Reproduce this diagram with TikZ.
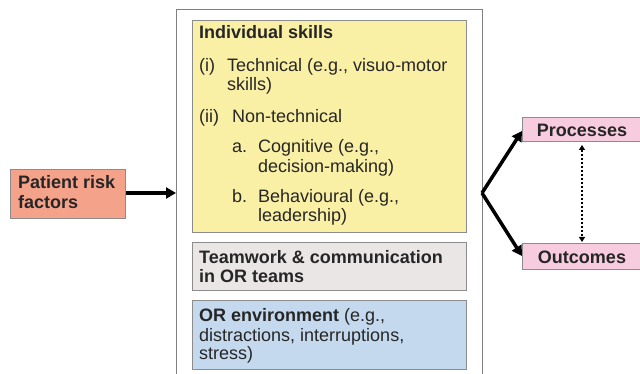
\documentclass[tikz,border=0pt]{standalone}
\usepackage{fontspec}
\setmainfont{Liberation Sans}
\usetikzlibrary{arrows.meta}
\begin{document}
\begin{tikzpicture}[x=1pt,y=-1pt,
  box/.style={draw=black!45,line width=1.2pt,inner sep=0pt,anchor=north west},
  txt/.style={anchor=base west,inner sep=0pt,font=\fontsize{18}{22}\selectfont,text=black!85},
  btxt/.style={txt,font=\fontsize{18}{22}\selectfont\bfseries},
  bigarrow/.style={line width=3.5pt,-{Triangle[length=10pt,width=11pt]}},
  dotarrow/.style={line width=2pt,dotted,{Triangle[length=5pt,width=6pt]}-{Triangle[length=5pt,width=6pt]}}]
\useasboundingbox (0,0) rectangle (640,374);
\fill[white] (0,0) rectangle (640,374);
% outer frame
\node[draw=black!50,line width=1.2pt,inner sep=0pt,anchor=north west,minimum width=306pt,minimum height=380pt] (outer) at (176,9) {};
% inner boxes
\node[box,fill={rgb,255:red,250;green,240;blue,165},minimum width=274pt,minimum height=212pt] (indiv) at (192,20) {};
\node[box,fill={rgb,255:red,234;green,230;blue,230},minimum width=274pt,minimum height=48pt] (team) at (192,242) {};
\node[box,fill={rgb,255:red,197;green,217;blue,238},minimum width=274pt,minimum height=69pt] (env) at (192,300) {};
\node[box,fill={rgb,255:red,245;green,162;blue,138},minimum width=115pt,minimum height=49pt] (patient) at (10,169) {};
\node[box,fill={rgb,255:red,247;green,204;blue,222},minimum width=130pt,minimum height=24pt] (proc) at (522,117) {};
\node[box,fill={rgb,255:red,247;green,204;blue,222},minimum width=130pt,minimum height=26pt] (outc) at (522,243) {};
% texts
\node[btxt] (t1) at (199,39) {Individual skills};
\node[txt] (t2a) at (199,72) {(i)};
\node[txt] (t2) at (227,72) {Technical (e.g., visuo-motor};
\node[txt] (t3) at (227,91) {skills)};
\node[txt] (t4a) at (199,123) {(ii)};
\node[txt] (t4) at (232,123) {Non-technical};
\node[txt] (t5a) at (232,153) {a.};
\node[txt] (t5) at (258,153) {Cognitive (e.g.,};
\node[txt] (t6) at (258,173) {decision-making)};
\node[txt] (t7a) at (232,203) {b.};
\node[txt] (t7) at (258,203) {Behavioural (e.g.,};
\node[txt] (t8) at (258,222) {leadership)};
\node[btxt] (u1) at (199,263) {Teamwork \& communication};
\node[btxt] (u2) at (199,282) {in OR teams};
\node[txt] (v1) at (199,321) {\textbf{OR environment} (e.g.,};
\node[txt] (v2) at (199,341) {distractions, interruptions,};
\node[txt] (v3) at (199,359) {stress)};
\node[btxt] (p1) at (18,189) {Patient risk};
\node[btxt] (p2) at (18,209) {factors};
\node[btxt,anchor=base] (q1) at (582,137) {Processes};
\node[btxt,anchor=base] (q2) at (582,263) {Outcomes};
% connectors
\coordinate (branch) at (482,193);
\draw[bigarrow] (patient.east |- 0,193) -- (outer.west |- 0,193);
\draw[bigarrow,line join=miter] (branch) -- (proc.west |- 0,131);
\draw[bigarrow] (branch) -- (outc.west |- 0,256);
\draw[dotarrow] (582,145) -- (582,242);
\end{tikzpicture}
\end{document}
